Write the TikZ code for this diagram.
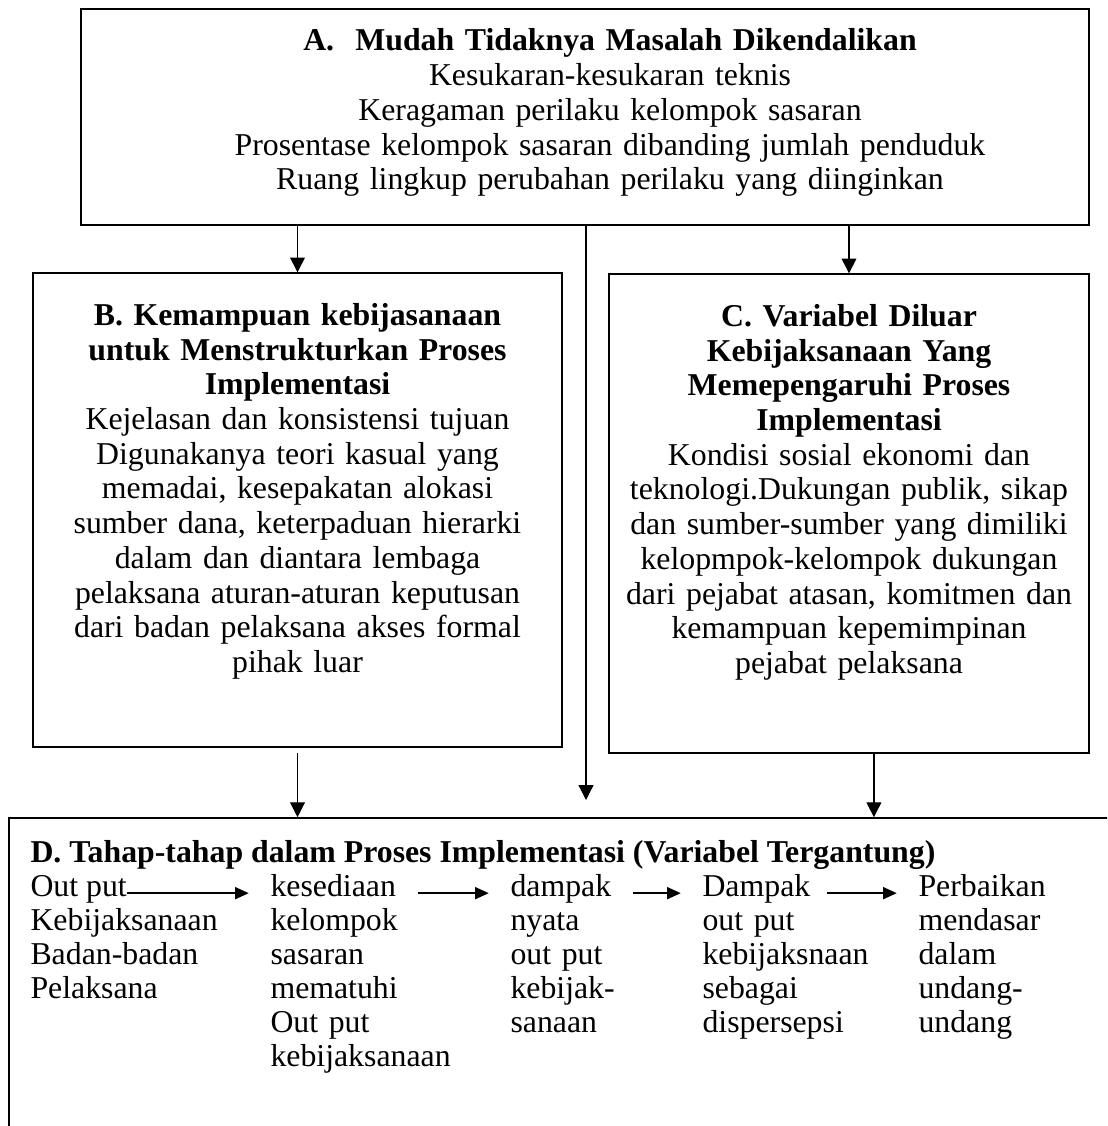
\documentclass[tikz,border=0pt]{standalone}
\usepackage{fontspec}
\setmainfont{Liberation Serif}
\usetikzlibrary{arrows.meta, fit}

\begin{document}
\begin{tikzpicture}[x=0.3774pt, y=-0.3774pt,
        varbox/.style={draw, line width=0.5pt, inner sep=0pt},
        txt/.style={font=\fontsize{12pt}{13.1pt}\selectfont, align=center, inner sep=0pt, anchor=base},
        head/.style={font=\fontsize{12pt}{12.85pt}\selectfont, inner sep=0pt, anchor=base west},
        col/.style={font=\fontsize{12pt}{12.85pt}\selectfont, align=left, text width=75pt, inner sep=0pt, anchor=base west},
        down/.style={line width=0.45pt, -{Triangle[length=5.6pt, width=5.6pt]}},
        flow/.style={line width=0.75pt, -{Triangle[length=5.2pt, width=4.5pt]}, shorten >=8pt}]

            \clip (0,0) rectangle (1107,1126);

            \node[varbox, fit={(81,9) (1089,225)}] (A) {};
            \node[varbox, fit={(33,273) (562,747)}] (B) {};
            \node[varbox, fit={(609,274) (1089,753)}] (C) {};
            \node[varbox, line width=0.6pt, fit={(9,818) (1150,1170)}] (D) {};

            \node[txt, text width=340pt] (Atext) at (610,51) {\textbf{A.\ \ Mudah Tidaknya Masalah Dikendalikan}\\
                Kesukaran-kesukaran teknis\\ Keragaman perilaku kelompok sasaran\\
                Prosentase kelompok sasaran dibanding jumlah penduduk\\ Ruang lingkup perubahan perilaku yang diinginkan};
            \node[txt, text width=185pt] (Btext) at ([yshift=-20pt]B.north) {\textbf{B. Kemampuan kebijasanaan}\\
                \textbf{untuk Menstrukturkan Proses}\\ \textbf{Implementasi}\\
                Kejelasan dan konsistensi tujuan\\ Digunakanya teori kasual yang\\ memadai, kesepakatan alokasi\\
                sumber dana, keterpaduan hierarki\\ dalam dan diantara lembaga\\ pelaksana aturan-aturan keputusan\\
                dari badan pelaksana akses formal\\ pihak luar};
            \node[txt, text width=175pt] (Ctext) at ([yshift=-20pt]C.north) {\textbf{C. Variabel Diluar}\\
                \textbf{Kebijaksanaan Yang}\\ \textbf{Memepengaruhi Proses}\\ \textbf{Implementasi}\\
                Kondisi sosial ekonomi dan\\ teknologi.Dukungan publik, sikap\\ dan sumber-sumber yang dimiliki\\
                kelopmpok-kelompok dukungan\\ dari pejabat atasan, komitmen dan\\ kemampuan kepemimpinan\\ pejabat pelaksana};

            \node[head] (Dtitle) at (30,862) {\textbf{D. Tahap-tahap dalam Proses Implementasi (Variabel Tergantung)}};
            \node[head] (h1) at (30,896.6) {Out put};
            \node[head] (h2) at (270,896.6) {kesediaan};
            \node[head] (h3) at (510,896.6) {dampak};
            \node[head] (h4) at (702,896.6) {Dampak};
            \node[head] (h5) at (918,896.6) {Perbaikan};
            \node[col] (b1) at ([yshift=-12.85pt]h1.base west) {Kebijaksanaan\\ Badan-badan\\ Pelaksana};
            \node[col] (b2) at ([yshift=-12.85pt]h2.base west) {kelompok\\ sasaran\\ mematuhi\\ Out put\\ kebijaksanaan};
            \node[col] (b3) at ([yshift=-12.85pt]h3.base west) {nyata\\ out put\\ kebijak-\\ sanaan};
            \node[col] (b4) at ([yshift=-12.85pt]h4.base west) {out put\\ kebijaksnaan\\ sebagai\\ dispersepsi};
            \node[col] (b5) at ([yshift=-12.85pt]h5.base west) {mendasar\\ dalam\\ undang-\\ undang};

            \coordinate (mid) at (586,800);
            \draw[down] (A.south -| mid) -- (mid);
            \draw[down] (A.south -| B.north) -- (B.north);
            \draw[down] (A.south -| C.north) -- (C.north);
            \draw[down] ([yshift=-1.9pt]B.south) -- (B.south |- D.north);
            \draw[down] ([xshift=9.4pt]C.south) -- ([xshift=9.4pt]C.south |- D.north);

            \draw[flow] ([yshift=1.3pt]h1.base east) -- ([yshift=1.3pt]h2.base west);
            \draw[flow, shorten <=8pt] ([yshift=1.3pt]h2.base east) -- ([yshift=1.3pt]h3.base west);
            \draw[flow, shorten <=8pt] ([yshift=1.3pt]h3.base east) -- ([yshift=1.3pt]h4.base west);
            \draw[flow, shorten <=6pt] ([yshift=1.3pt]h4.base east) -- ([yshift=1.3pt]h5.base west);

        \end{tikzpicture}
\end{document}
